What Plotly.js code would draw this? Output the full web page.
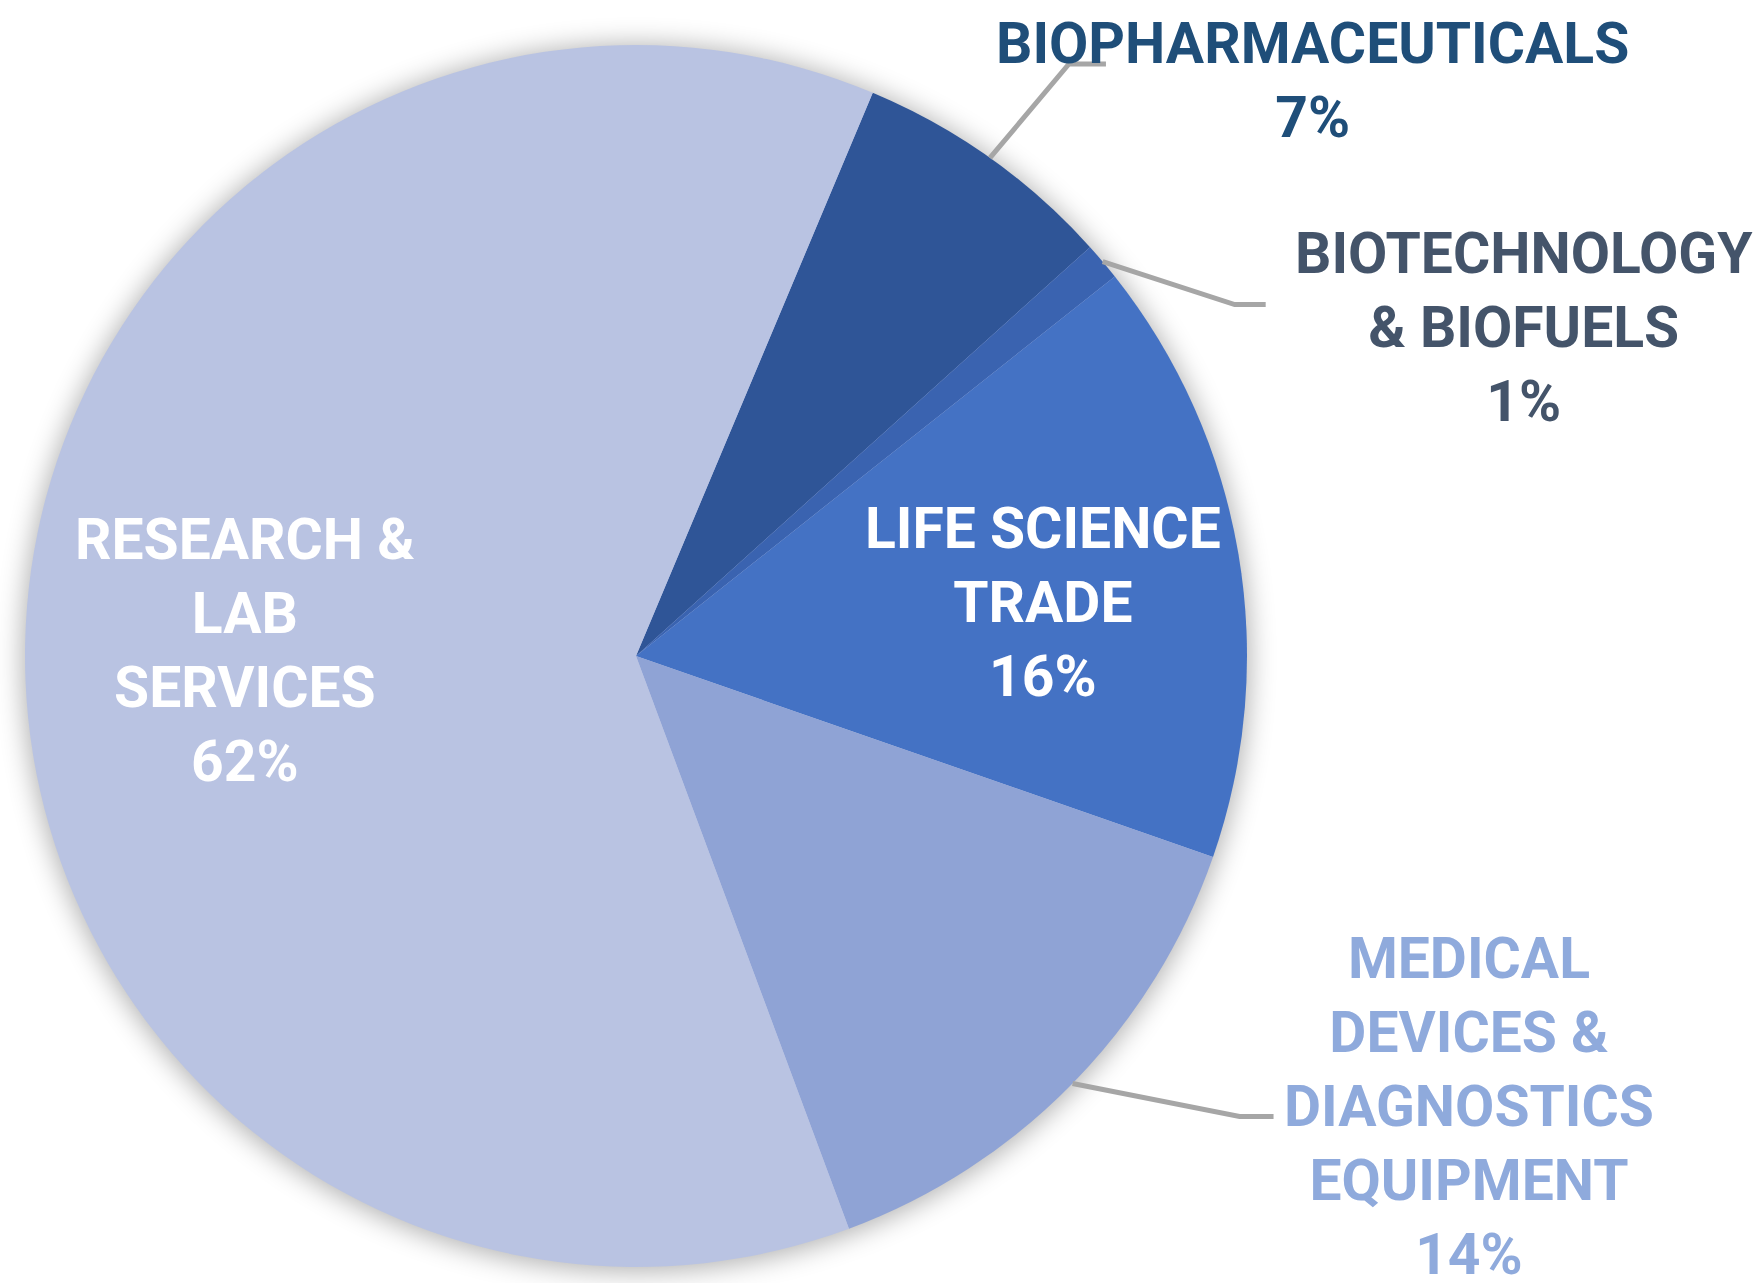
<!DOCTYPE html>
<html><head><meta charset="utf-8">
<script src="https://cdn.plot.ly/plotly-3.0.1.min.js"></script>
<style>
html,body{margin:0;padding:0;background:#fff;overflow:hidden}
#wrap{position:relative;width:1760px;height:1283px;background:#fff}
#shadow{position:absolute;border-radius:50%;background:#B9C3E2}
#chart{position:absolute;left:0;top:0;width:1760px;height:1283px}
</style>
</head><body><div id="wrap"><div id="shadow"></div><div id="chart"></div></div>
<script>
// ---- data ----
const categories = ['BIOPHARMACEUTICALS', 'BIOTECHNOLOGY & BIOFUELS', 'LIFE SCIENCE TRADE', 'MEDICAL DEVICES & DIAGNOSTICS EQUIPMENT', 'RESEARCH & LAB SERVICES'];
const labelLines = ['BIOPHARMACEUTICALS', 'BIOTECHNOLOGY<br>& BIOFUELS', 'LIFE SCIENCE<br>TRADE', 'MEDICAL<br>DEVICES &<br>DIAGNOSTICS<br>EQUIPMENT', 'RESEARCH &<br>LAB<br>SERVICES'];
const shares = [7, 1, 16, 14, 62];

// ---- styles / layout ----
const sliceColors = ['#2F5597', '#3A63B0', '#4472C4', '#8FA3D5', '#B9C3E2'];
const labelColors = ['#1F4E79', '#44546A', '#FFFFFF', '#8FAADC', '#FFFFFF'];
const W = 1760, H = 1283;
const CX = 636, CY = 656, R = 611;       // pie centre & radius in px
const ROT = 22.8;                          // start angle (deg, clockwise from 12 o'clock)
const labelPos = [[1312, 80], [1524, 327], [1043, 602], [1469, 1106], [245, 650]];
const leader = [[79, -94, 37], [132, 43, 31], null, [167, 33, 34], null];
const FONT = 'Roboto, "Open Sans", "DejaVu Sans", sans-serif';

// soft shadow behind the pie (decoration only)
const sh = document.getElementById('shadow');
sh.style.left = (CX - R + 1) + 'px'; sh.style.top = (CY - R + 1) + 'px';
sh.style.width = (2 * R - 2) + 'px'; sh.style.height = (2 * R - 2) + 'px';
sh.style.boxShadow = '0 2px 26px 4px rgba(0,0,0,0.30)';

const total = shares.reduce((a, b) => a + b, 0);
const annotations = [];
const shapes = [];
let acc = 0;
shares.forEach((v, i) => {
  const mid = (ROT + 360 * (acc + v / 2) / total) * Math.PI / 180;
  acc += v;
  annotations.push({
    xref: 'paper', yref: 'paper',
    x: labelPos[i][0] / W, y: 1 - labelPos[i][1] / H,
    xanchor: 'center', yanchor: 'middle', align: 'center', showarrow: false,
    text: labelLines[i] + '<br>' + v + '%',
    font: {family: FONT, size: 57, color: labelColors[i], weight: 'bold'}
  });
  if (leader[i]) {
    const x0 = CX + R * Math.sin(mid), y0 = CY - R * Math.cos(mid);
    const x1 = x0 + leader[i][0], y1 = y0 + leader[i][1];
    const x2 = x1 + leader[i][2];
    const px = x => (x / W).toFixed(5), py = y => (1 - y / H).toFixed(5);
    shapes.push({
      type: 'path', xref: 'paper', yref: 'paper',
      path: `M ${px(x0)} ${py(y0)} L ${px(x1)} ${py(y1)} L ${px(x2)} ${py(y1)}`,
      line: {color: '#A6A6A6', width: 5}
    });
  }
});

const trace = {
  type: 'pie', labels: categories, values: shares, sort: false,
  direction: 'clockwise', rotation: ROT,
  marker: {colors: sliceColors, line: {width: 0}},
  textinfo: 'none', hoverinfo: 'label+percent', showlegend: false,
  domain: {x: [(CX - R) / W, (CX + R) / W], y: [1 - (CY + R) / H, 1 - (CY - R) / H]}
};

const layout = {
  width: W, height: H, margin: {l: 0, r: 0, t: 0, b: 0},
  paper_bgcolor: 'rgba(0,0,0,0)', plot_bgcolor: 'rgba(0,0,0,0)',
  showlegend: false, annotations, shapes
};

Plotly.newPlot('chart', [trace], layout, {displayModeBar: false, staticPlot: true});
</script></body></html>
